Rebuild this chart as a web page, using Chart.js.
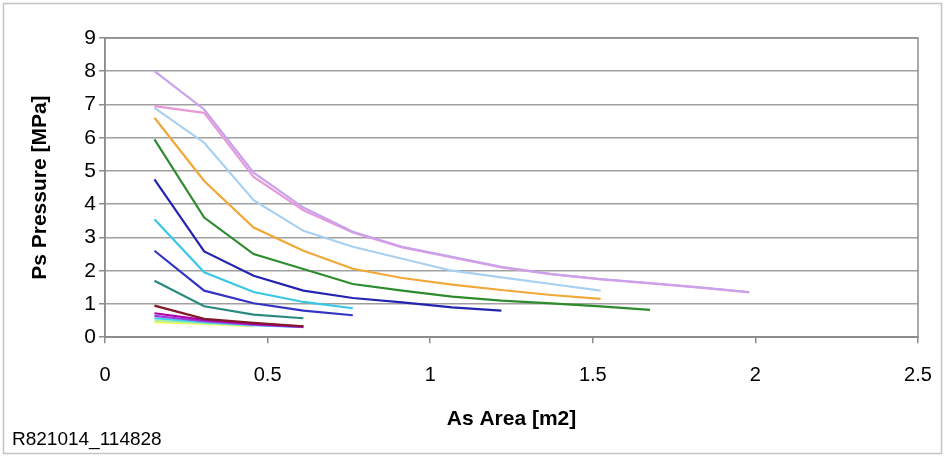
<!DOCTYPE html>
<html>
<head>
<meta charset="utf-8">
<script src="https://cdn.jsdelivr.net/npm/chart.js@4"></script>
<style>
  html, body { margin: 0; padding: 0; background: #fff; }
  canvas { display: block; }
</style>
</head>
<body>
<canvas id="pressureChart" width="945" height="457"></canvas>
<script>
    // As area steps [m2]
    var areaSteps = [0.152, 0.305, 0.457, 0.61, 0.762, 0.914, 1.067, 1.219, 1.372, 1.524, 1.676, 1.829, 1.981];

    // Ps pressure [MPa] for each curve, one value per area step
    var psLavender = [8.0, 6.85, 4.95, 3.9, 3.17, 2.72, 2.42, 2.12, 1.9, 1.75, 1.63, 1.5, 1.36];
    var psPink = [6.95, 6.75, 4.82, 3.82, 3.15, 2.7, 2.4, 2.1, 1.9, 1.74, 1.62, 1.49, 1.35];
    var psLightBlue = [6.9, 5.85, 4.12, 3.2, 2.72, 2.36, 2.0, 1.8, 1.6, 1.4];
    var psOrange = [6.6, 4.7, 3.3, 2.6, 2.06, 1.78, 1.58, 1.42, 1.27, 1.15];
    var psGreen = [5.95, 3.6, 2.5, 2.05, 1.6, 1.4, 1.22, 1.1, 1.02, 0.93, 0.82];
    var psBlue = [4.75, 2.58, 1.85, 1.4, 1.18, 1.05, 0.9, 0.8];
    var psCyan = [3.55, 1.95, 1.36, 1.06, 0.87];
    var psBlue2 = [2.6, 1.4, 1.02, 0.8, 0.66];
    var psTeal = [1.7, 0.93, 0.68, 0.57];
    var psMaroon = [0.95, 0.55, 0.43, 0.33];
    var psMagenta = [0.72, 0.52, 0.4, 0.32];
    var psViolet = [0.64, 0.48, 0.38, 0.31];
    var psSky = [0.57, 0.45, 0.36, 0.3];
    var psMint = [0.5, 0.42, 0.34];
    var psYellow = [0.45, 0.4, 0.33];

    var curveColors = ['#fbfb50', '#a8f0a0', '#40d0f0', '#9a40d8', '#b000b0', '#801828',
        '#2a8a80', '#3434c4', '#38c8e6', '#2424b0', '#2e8c2e', '#f0a838', '#a8d0f0', '#e89ad8', '#c8a2ec'];
    var curveValues = [psYellow, psMint, psSky, psViolet, psMagenta, psMaroon,
        psTeal, psBlue2, psCyan, psBlue, psGreen, psOrange, psLightBlue, psPink, psLavender];

    var fontStack = "'Liberation Sans', Arial, sans-serif";

    function toPoints(values) {
        return values.map(function (v, i) { return { x: areaSteps[i], y: v }; });
    }

    // draws the frame round the whole chart and round the plot area
    var frames = {
        id: 'frames',
        afterDraw: function (chart) {
            var ctx = chart.ctx;
            var a = chart.chartArea;
            ctx.save();
            ctx.strokeStyle = '#c4c4c4';
            ctx.lineWidth = 1.5;
            ctx.strokeRect(3.5, 3.5, 938, 450);
            ctx.strokeStyle = '#8c8c8c';
            ctx.lineWidth = 1.5;
            ctx.strokeRect(a.left, a.top, a.right - a.left, a.bottom - a.top);
            ctx.restore();
        }
    };

    var ctxPs = document.getElementById('pressureChart').getContext('2d');
    new Chart(ctxPs, {
        type: 'line',
        data: {
            datasets: curveValues.map(function (vals, i) {
                return {
                    data: toPoints(vals),
                    borderColor: curveColors[i],
                    borderWidth: 2.2,
                    pointRadius: 0,
                    fill: false,
                    tension: 0
                };
            }).reverse()
        },
        options: {
            responsive: false,
            animation: false,
            devicePixelRatio: 1,
            layout: { padding: { left: 12, right: 27, top: 38, bottom: 6 } },
            plugins: {
                legend: { display: false },
                tooltip: { enabled: false },
                title: {
                    display: true,
                    text: 'R821014_114828',
                    position: 'bottom',
                    align: 'start',
                    color: '#000',
                    font: { family: fontStack, size: 19, weight: 'normal' },
                    padding: 0
                }
            },
            scales: {
                x: {
                    type: 'linear',
                    min: 0,
                    max: 2.5,
                    afterFit: function (s) {
                        s.height = 91;
                        s.paddingLeft = 0;
                        s.paddingRight = 0;
                    },
                    ticks: {
                        stepSize: 0.5,
                        color: '#000',
                        padding: 20,
                        maxRotation: 0,
                        font: { family: fontStack, size: 20 },
                        callback: function (v) { return String(v); }
                    },
                    grid: { drawOnChartArea: false, drawTicks: true, tickLength: 6, color: '#8c8c8c', lineWidth: 1.5 },
                    border: { color: '#8c8c8c', width: 1.5 },
                    title: {
                        display: true,
                        text: 'As Area [m2]',
                        color: '#000',
                        font: { family: fontStack, size: 21, weight: 'bold' },
                        padding: { top: 0, bottom: -4 }
                    }
                },
                y: {
                    min: 0,
                    max: 9,
                    afterFit: function (s) { s.width = 93; },
                    ticks: {
                        stepSize: 1,
                        color: '#000',
                        padding: 3,
                        font: { family: fontStack, size: 21 }
                    },
                    grid: { color: '#a0a0a0', lineWidth: 1.5, tickLength: 6, tickColor: '#8c8c8c' },
                    border: { color: '#8c8c8c', width: 1.5 },
                    title: {
                        display: true,
                        text: 'Ps Pressure [MPa]',
                        color: '#000',
                        font: { family: fontStack, size: 21, weight: 'bold' },
                        padding: { top: 16, bottom: 0 }
                    }
                }
            }
        },
        plugins: [frames]
    });
</script>
</body>
</html>
